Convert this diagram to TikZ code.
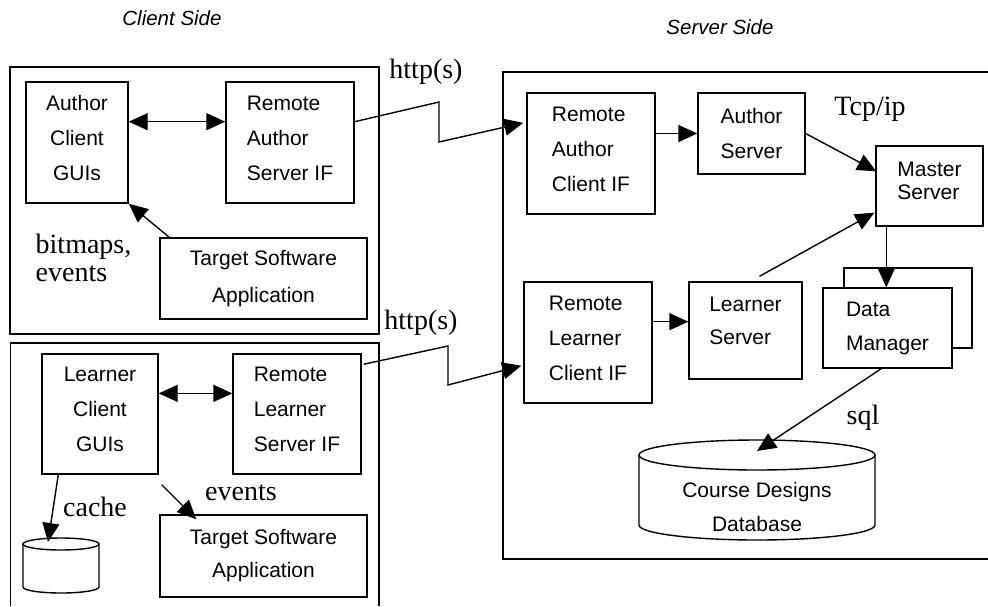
\documentclass[tikz,border=0pt]{standalone}
\usepackage{fontspec}
\setmainfont{Liberation Serif}
\newfontfamily\boxfont{Liberation Sans}
\usetikzlibrary{arrows.meta,calc}
\begin{document}
\begin{tikzpicture}[x=1pt,y=-1pt,line width=1.4pt,
  box/.style={draw,fill=white,inner sep=0pt,align=center,
    font=\boxfont\fontsize{21}{35}\selectfont},
  lbox/.style={box,align=left},
  lift/.style={execute at end node={\rule[-#1]{0pt}{#1}}},
  lbl/.style={inner sep=0pt,font=\fontsize{28}{28}\selectfont},
  ttl/.style={inner sep=0pt,font=\boxfont\itshape\fontsize{20.5}{24}\selectfont},
  arr/.style={-{Triangle[length=19pt,width=17pt]}},
  biarr/.style={{Triangle[length=19pt,width=17pt]}-{Triangle[length=19pt,width=17pt]}}]
\useasboundingbox (0,0) rectangle (988,606);

% titles
\node[ttl] (tclient) at (172,18) {Client Side};
\node[ttl] (tserver) at (720,27) {Server Side};

% outer frames
\draw (10,67) rectangle (379,334);
\draw (10.5,606) -- (10.5,343) -- (379,343) -- (379,606);
\draw (988,72) -- (503,72) -- (503,559) -- (988,559);

% author client
\node[box,lift=9pt,minimum width=102,minimum height=121] (acg) at (77,142.5) {Author\\Client\\GUIs};
\node[lbox,lift=9pt,minimum width=128,minimum height=121] (rasif) at (290,142.5) {Remote\\Author\\Server IF};
\node[box,minimum width=207,minimum height=81,font=\boxfont\fontsize{21}{37}\selectfont] (tsa1) at (263.5,278.5) {Target Software\\Application};
\node[lbl,align=left,anchor=west] (bme) at (35,258) {bitmaps,\\events};

% learner client
\node[box,lift=9pt,minimum width=116,minimum height=120] (lcg) at (100,414) {Learner\\Client\\GUIs};
\node[lbox,lift=9pt,minimum width=128,minimum height=120] (rlsif) at (297,414) {Remote\\Learner\\Server IF};
\node[box,minimum width=207,minimum height=82,font=\boxfont\fontsize{21}{33}\selectfont] (tsa2) at (263.5,556) {Target Software\\Application};
\node[lbl] (cachet) at (95,507) {cache};
\node[lbl] (eventst) at (241,493) {events};

% cache cylinder
\draw[fill=white] (23,544) -- (23,587) arc[start angle=180,end angle=360,x radius=38pt,y radius=6pt] -- (99,544);
\draw[fill=white] (61,544) ellipse[x radius=38pt,y radius=6pt];
\coordinate (cache) at (48,542);

% server side
\node[lbox,lift=9pt,minimum width=128,minimum height=121] (racif) at (591,153.5) {Remote\\Author\\Client IF};
\node[lbox,minimum width=107,minimum height=81] (asrv) at (751.5,133.5) {Author\\Server};
\node[lbox,lift=11pt,minimum width=107,minimum height=80,font=\boxfont\fontsize{21}{23}\selectfont] (ms) at (929.5,186) {Master\\Server};
\node[lbox,lift=9pt,minimum width=128,minimum height=121] (rlcif) at (588,342.5) {Remote\\Learner\\Client IF};
\node[lbox,lift=20pt,minimum width=113,minimum height=97,font=\boxfont\fontsize{21}{33}\selectfont] (ls) at (745.5,330.5) {Learner\\Server};
\node[draw,fill=white,minimum width=128,minimum height=80,inner sep=0pt] (dmback) at (908,308) {};
\node[lbox,minimum width=129,minimum height=80,font=\boxfont\fontsize{21}{34}\selectfont] (dm) at (887.5,328) {Data\\Manager};
\node[lbl] (tcp) at (870,109) {Tcp/ip};
\node[lbl] (sqlt) at (863,418) {sql};
\node[lbl] (http1) at (426,72) {http(s)};
\node[lbl] (http2) at (421,323) {http(s)};

% database cylinder
\node[inner sep=0pt,align=center,
  font=\boxfont\fontsize{21}{34}\selectfont] (db) at (757,507) {Course Designs\\Database};
\draw (639,455) -- (639,525) arc[start angle=180,end angle=360,x radius=118pt,y radius=15pt] -- (875,455);
\draw (757,455) ellipse[x radius=118pt,y radius=15pt];
\coordinate (dbtip) at (757,451);

% connectors client
\draw[biarr] ($(acg.north east)!0.33!(acg.south east)$) -- ($(rasif.north west)!0.33!(rasif.south west)$);
\draw[arr] ($(tsa1.north west)+(10,0)$) -- (acg.south east);
\draw[biarr] ($(lcg.north east)!0.33!(lcg.south east)$) -- ($(rlsif.north west)!0.33!(rlsif.south west)$);
\draw[arr] ($(lcg.south west)+(17,0)$) -- (cache);
\draw[arr] ($(lcg.south east)+(3,10)$) -- ($(tsa2.north west)+(37,5)$);

% http links
\draw[arr] ($(rasif.north east)!0.33!(rasif.south east)$) -- (439,102) -- (439,142) -- ($(racif.north west)!0.25!(racif.south west)+(-3,0)$);
\draw[arr] ($(rlsif.north east)!0.09!(rlsif.south east)+(2,0)$) -- (448,346) -- (448,385) -- ($(rlcif.north west)!0.69!(rlcif.south west)+(-2,0)$);

% server connectors
\draw[arr] (asrv.west -| racif.east) -- (asrv.west);
\draw[arr] ($(rlcif.north east)!0.33!(rlcif.south east)$) coordinate (p1) -- (p1 -| ls.west);
\draw[arr] (asrv.east) -- ($(ms.north west)+(1,26)$);
\draw[arr] ($(ls.north)+(14,-5)$) -- ($(ms.south west)+(-1,-14)$);
\draw[arr] ($(ms.south west)+(11,0)$) -- ($(dm.north west)+(64,0)$);
\draw[arr] ($(dm.south west)+(59,0)$) -- (dbtip);
\end{tikzpicture}
\end{document}
